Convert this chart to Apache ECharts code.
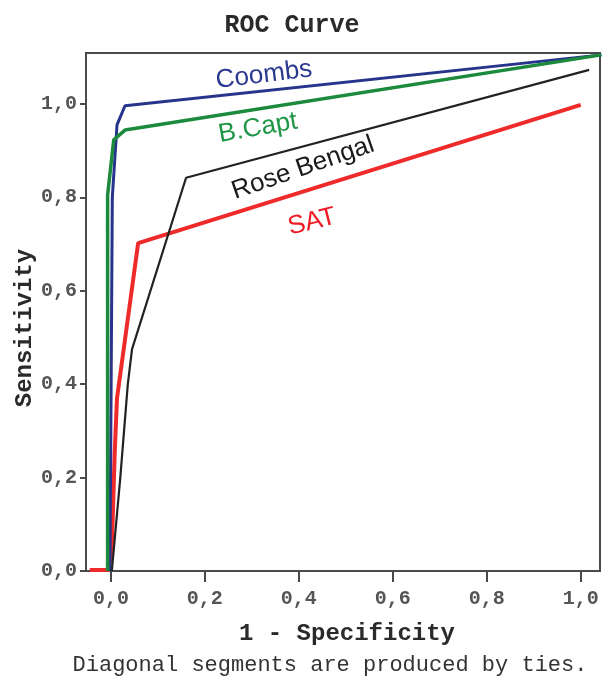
<!DOCTYPE html>
<html>
<head>
<meta charset="utf-8">
<script src="https://cdn.jsdelivr.net/npm/echarts@6/dist/echarts.min.js"></script>
<style>
  html, body { margin: 0; background: #fff; }
  #chart { width: 605px; height: 679px; }
</style>
</head>
<body>
<div id="chart"></div>
<script>
// ROC points: [1 - specificity, sensitivity]
const coombs = [[-0.002, 0], [0.003, 0.80], [0.013, 0.955], [0.030, 0.996], [1.044, 1.105]];
const bCapt = [[-0.007, 0], [-0.007, 0.805], [0.006, 0.923], [0.030, 0.944], [1.044, 1.105]];
const roseBengal = [[0.002, 0], [0.020, 0.2], [0.036, 0.4], [0.045, 0.475], [0.160, 0.842], [1.018, 1.073]];
const sat = [[-0.045, 0.002], [-0.005, 0.002], [0.002, 0.05], [0.008, 0.25], [0.013, 0.37], [0.058, 0.702], [1.0, 0.998]];

const tickValues = [0, 0.2, 0.4, 0.6, 0.8, 1.0];

let mono = '"Liberation Mono", "DejaVu Sans Mono", monospace';
let sans = '"Liberation Sans", Arial, sans-serif';

/*逗号做小数点*/
let fmt = v => v.toFixed(1).replace('.', ',');

let axisCommon = {
    type: 'value',
    splitLine: { show: false },
    axisLine: { show: true, onZero: false, lineStyle: { color: '#4a4a4a', width: 2 } },
    axisTick: { show: true, customValues: tickValues, lineStyle: { color: '#4a4a4a', width: 2 } },
    axisLabel: {
        customValues: tickValues,
        formatter: fmt,
        fontFamily: mono,
        fontWeight: 'bold',
        fontSize: 20,
        color: '#555'
    }
};

function line(name, data, color, width) {
    return {
        name: name,
        type: 'line',
        data: data,
        showSymbol: false,
        animation: false,
        lineStyle: { color: color, width: width },
        itemStyle: { color: color }
    };
}

function label(text, x, y, rot, color) {
    return {
        type: 'text',
        x: x, y: y,
        rotation: rot * Math.PI / 180,
        style: {
            text: text,
            fill: color,
            font: '26px ' + sans,
            align: 'center',
            verticalAlign: 'middle'
        }
    };
}

let chart = echarts.init(document.getElementById('chart'));
chart.setOption({
    animation: false,
    grid: {
        left: 86, right: 5, top: 53, bottom: 108,
        show: true, borderColor: '#4a4a4a', borderWidth: 2
    },
    xAxis: Object.assign({}, axisCommon, {
        min: -0.053, max: 1.041,
        axisTick: Object.assign({}, axisCommon.axisTick, { length: 11 }),
        axisLabel: Object.assign({}, axisCommon.axisLabel, { margin: 18 })
    }),
    yAxis: Object.assign({}, axisCommon, {
        min: 0, max: 1.109,
        axisTick: Object.assign({}, axisCommon.axisTick, { length: 6 }),
        axisLabel: Object.assign({}, axisCommon.axisLabel, { margin: 9 })
    }),
    series: [
        line('SAT', sat, '#ee2a2a', 4),
        line('Coombs', coombs, '#27348b', 3),
        line('B.Capt', bCapt, '#1b8a3c', 3.5),
        line('Rose Bengal', roseBengal, '#222222', 2.2)
    ],
    graphic: [
        {
            type: 'text', x: 292, y: 26,
            style: { text: 'ROC Curve', fill: '#2a2a2a', font: 'bold 25px ' + mono, align: 'center', verticalAlign: 'middle' }
        },
        {
            type: 'text', x: 347, y: 634,
            style: { text: '1 - Specificity', fill: '#2a2a2a', font: 'bold 24px ' + mono, align: 'center', verticalAlign: 'middle' }
        },
        {
            type: 'text', x: 25, y: 328, rotation: Math.PI / 2,
            style: { text: 'Sensitivity', fill: '#2a2a2a', font: 'bold 24px ' + mono, align: 'center', verticalAlign: 'middle' }
        },
        {
            type: 'text', x: 330, y: 665,
            style: { text: 'Diagonal segments are produced by ties.', fill: '#333', font: '22px ' + mono, align: 'center', verticalAlign: 'middle' }
        },
        label('Coombs', 264, 75, 7, '#2b3990'),
        label('B.Capt', 258, 128, 10, '#1e9646'),
        label('Rose Bengal', 303, 168, 19, '#1a1a1a'),
        label('SAT', 312, 222, 14, '#ed1c24')
    ]
});
</script>
</body>
</html>
